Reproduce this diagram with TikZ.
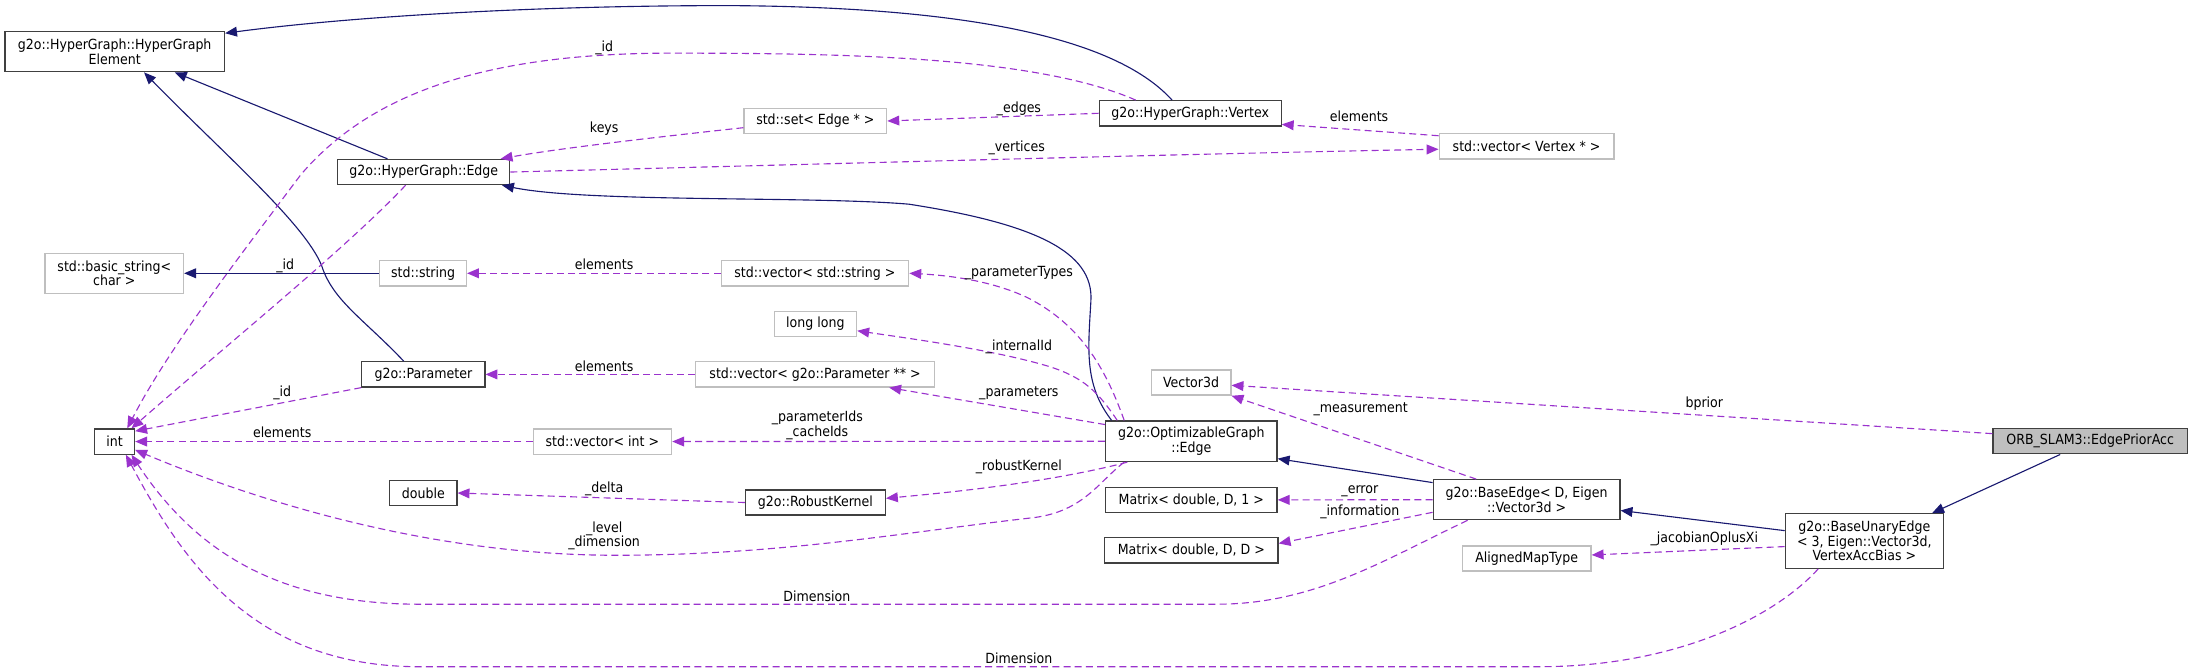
\documentclass[tikz,border=0pt]{standalone}
\usepackage{fontspec}
\setmainfont{DejaVu Sans}[FakeStretch=0.9]
\usetikzlibrary{arrows.meta}
\definecolor{inhcol}{RGB}{25,25,112}
\definecolor{usecol}{RGB}{154,50,205}
\definecolor{extgray}{RGB}{191,191,191}
\newcommand\dxfont{\fontsize{10}{10.4}\selectfont}

\begin{document}
\begin{tikzpicture}[x=1pt,y=-1pt,
  klass/.style={draw=black!75, line width=0.9pt, fill=white, minimum height=18pt,
                inner sep=1pt, align=center, font=\dxfont},
  ext/.style={klass, draw=extgray},
  inherit/.style={draw=inhcol, line width=0.8pt, -{Triangle[length=8.5pt,width=7pt]}},
  uses/.style={draw=usecol, line width=0.8pt, dash pattern=on 5pt off 3pt,
               -{Triangle[length=8.5pt,width=7pt]}},
  lbl/.style={font=\dxfont, inner sep=0pt, align=center}
]
\useasboundingbox (0,0) rectangle (1568,480);

\node[klass, minimum width=157, minimum height=28.6] (elem) at (82,37) {g2o::HyperGraph::HyperGraph\\Element};
\node[klass, minimum width=123] (hgedge) at (303,123) {g2o::HyperGraph::Edge};
\node[ext, minimum width=102] (setedge) at (583,86.5) {std::set< Edge * >};
\node[klass, minimum width=130] (hgvertex) at (851,81) {g2o::HyperGraph::Vertex};
\node[ext, minimum width=125] (vecvertex) at (1091.5,104.7) {std::vector< Vertex * >};
\node[ext, minimum width=99, minimum height=28.6] (basicstr) at (81.7,195.4) {std::basic\_string<\\char >};
\node[ext, minimum width=62] (stdstr) at (302.5,195.4) {std::string};
\node[ext, minimum width=134] (vecstr) at (582.7,195.4) {std::vector< std::string >};
\node[ext, minimum width=59] (longlong) at (583,231.5) {long long};
\node[klass, minimum width=88] (param) at (302.7,267.7) {g2o::Parameter};
\node[ext, minimum width=171] (vecparam) at (582.8,267.7) {std::vector< g2o::Parameter ** >};
\node[ext, minimum width=57] (vecthree) at (851.6,273.5) {Vector3d};
\node[klass, minimum width=28.4] (intt) at (82,315.7) {int};
\node[ext, minimum width=99] (vecint) at (430.7,315.7) {std::vector< int >};
\node[klass, minimum width=122.6, minimum height=29] (optedge) at (851.8,315.5) {g2o::OptimizableGraph\\::Edge};
\node[klass, fill=extgray, minimum width=139] (prior) at (1494.5,315.5) {ORB\_SLAM3::EdgePriorAcc};
\node[klass, minimum width=48] (dbl) at (302.7,352.5) {double};
\node[klass, minimum width=100] (robust) at (583,359.3) {g2o::RobustKernel};
\node[klass, minimum width=122.6] (matone) at (851.8,357.4) {Matrix< double, D, 1 >};
\node[klass, minimum width=124] (matdd) at (851.8,393.5) {Matrix< double, D, D >};
\node[klass, minimum width=133.5, minimum height=28.6] (baseedge) at (1091.5,357.3) {g2o::BaseEdge< D, Eigen\\::Vector3d >};
\node[ext, minimum width=92] (aligned) at (1091.6,399.3) {AlignedMapType};
\node[klass, minimum width=113, minimum height=39] (unary) at (1333,386.8) {g2o::BaseUnaryEdge\\< 3, Eigen::Vector3d,\\VertexAccBias >};

\draw[inherit] ([xshift=-13pt]hgvertex.north) .. controls (805,35) and (720,5) .. (520,4)
  .. controls (380,4) and (250,12) .. ([yshift=-1.5pt]elem.north east);
\draw[inherit] ([xshift=-26pt]hgedge.north) -- ([xshift=43pt]elem.south);
\draw[inherit] ([xshift=-14pt]param.north) .. controls (260,228) and (238,215) .. (230,190)
  .. controls (218,160) and (160,110) .. ([xshift=21pt]elem.south);
\draw[inherit] (stdstr.west) -- (basicstr.east);
\draw[inherit] ([xshift=-57pt]optedge.north) .. controls (775,275) and (778,250) .. (780,215)
  .. controls (782,180) and (740,160) .. (650,146)
  .. controls (580,140) and (420,145) .. ([xshift=-6pt]hgedge.south east);
\draw[inherit] ([yshift=-2.5pt]baseedge.north west) -- ([yshift=2.5pt]optedge.south east);
\draw[inherit] ([yshift=7.4pt]unary.west) -- ([yshift=-7.7pt]baseedge.east);
\draw[inherit] ([xshift=-21.5pt]prior.south) -- ([xshift=48.5pt]unary.north);

\draw[uses] ([xshift=-39pt]hgvertex.north) .. controls (740,40) and (600,38) .. (480,38)
  .. controls (340,38) and (262,70) .. (215,125)
  .. controls (170,185) and (120,250) .. ([xshift=9pt]intt.north);
\draw[uses] ([xshift=-13pt]hgedge.south) .. controls (250,175) and (170,240) .. ([xshift=12pt]intt.north);
\draw[uses] ([yshift=-4.8pt]setedge.west) .. controls (470,98) and (400,106) .. ([xshift=-7pt]hgedge.north east);
\draw[uses] (hgvertex.west) -- (setedge.east);
\draw[uses] ([yshift=-1.8pt]vecvertex.north west) -- ([yshift=1.5pt]hgvertex.south east);
\draw[uses] (hgedge.east) .. controls (600,117) and (850,110) .. ([yshift=-2pt]vecvertex.west);
\draw[uses] (vecstr.west) -- (stdstr.east);
\draw[uses] ([xshift=-48pt]optedge.north) .. controls (790,262) and (772,232) .. (735,213)
  .. controls (710,201) and (680,197) .. (vecstr.east);
\draw[uses] ([xshift=-53pt]optedge.north) .. controls (785,280) and (775,270) .. (750,262)
  .. controls (710,250) and (650,242) .. ([yshift=-5pt]longlong.east);
\draw[uses] ([yshift=-3pt]optedge.north west) -- ([xshift=-33pt]vecparam.south east);
\draw[uses] (vecparam.west) -- (param.east);
\draw[uses] (param.south west) -- ([yshift=-2pt]intt.north east);
\draw[uses] (vecint.west) -- (intt.east);
\draw[uses] (optedge.west) -- (vecint.east);
\draw[uses] ([xshift=16pt]optedge.south west) .. controls (750,345) and (680,352) .. ([yshift=3pt]robust.east);
\draw[uses] (robust.west) -- (dbl.east);
\draw[uses] ([xshift=-48pt]optedge.south) .. controls (785,345) and (775,365) .. (740,370)
  .. controls (650,380) and (560,397) .. (440,397)
  .. controls (320,397) and (200,365) .. ([yshift=-6pt]intt.east);
\draw[uses] ([xshift=-36pt]baseedge.north) -- (vecthree.south east);
\draw[uses] ([yshift=-4pt]prior.north west) -- ([yshift=-2pt]vecthree.east);
\draw[uses] (baseedge.west) -- (matone.east);
\draw[uses] ([yshift=-9pt]baseedge.west) -- ([yshift=-4.5pt]matdd.north east);
\draw[uses] ([yshift=-4pt]unary.west) -- ([yshift=2.5pt]aligned.east);
\draw[uses] ([xshift=25pt]baseedge.south west) .. controls (990,400) and (940,432) .. (870,432)
  -- (300,432) .. controls (200,432) and (140,395) .. ([xshift=12pt]intt.south);
\draw[uses] ([xshift=-33pt]unary.south) .. controls (1270,440) and (1200,476.7) .. (1100,476.7)
  -- (300,476.7) .. controls (180,476.7) and (130,400) .. ([xshift=8pt]intt.south);

\node[lbl] (lvid) at (432,34.5) {\_id};
\node[lbl] (lkeys) at (432,91.7) {keys};
\node[lbl] (ledges) at (728.5,77.5) {\_edges};
\node[lbl] (lvelem) at (971.7,83.4) {elements};
\node[lbl] (lverts) at (727,106) {\_vertices};
\node[lbl] (leid) at (204,190) {\_id};
\node[lbl] (lselem) at (432,188.8) {elements};
\node[lbl] (lptypes) at (728.5,195) {\_parameterTypes};
\node[lbl] (lintid) at (728.5,247.9) {\_internalId};
\node[lbl] (lpelem) at (432,262) {elements};
\node[lbl] (lpid) at (201.8,280.8) {\_id};
\node[lbl] (lparams) at (728.5,281.2) {\_parameters};
\node[lbl] (lmeas) at (972.9,292.5) {\_measurement};
\node[lbl] (lbprior) at (1218.6,288.9) {bprior};
\node[lbl] (lpids) at (584.4,304) {\_parameterIds\\\_cacheIds};
\node[lbl] (lielem) at (201.8,309) {elements};
\node[lbl] (lrobust) at (728.5,333.7) {\_robustKernel};
\node[lbl] (ldelta) at (432,349.2) {\_delta};
\node[lbl] (lerror) at (972.3,351.5) {\_error};
\node[lbl] (linfo) at (972.3,365.8) {\_information};
\node[lbl] (llevel) at (432,383) {\_level\\\_dimension};
\node[lbl] (ljac) at (1218.6,385.6) {\_jacobianOplusXi};
\node[lbl] (ldimone) at (584,426.6) {Dimension};
\node[lbl] (ldimtwo) at (728.5,470.7) {Dimension};
\end{tikzpicture}
\end{document}
